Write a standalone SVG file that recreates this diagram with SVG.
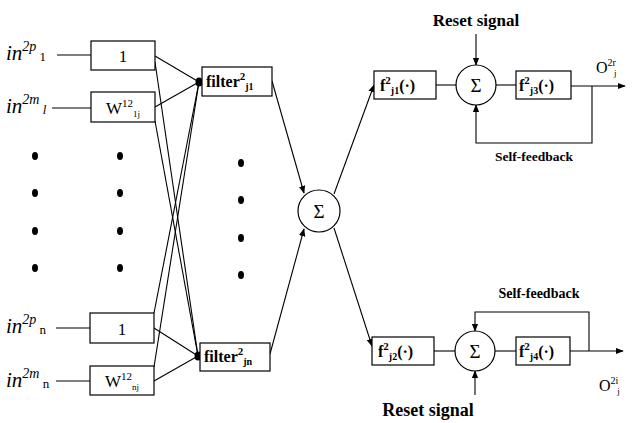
<svg xmlns="http://www.w3.org/2000/svg" width="634" height="423" viewBox="0 0 634 423">
<defs>
<style>
.box{fill:#fff;stroke:#000;stroke-width:1.2}
.ln{fill:none;stroke:#000;stroke-width:1.1}
.ar{fill:none;stroke:#000;stroke-width:1.1;marker-end:url(#ah)}
.t{font-family:"Liberation Serif",serif;fill:#000}
.b{font-weight:bold}
.it{font-style:italic}
.dot{fill:#000}
</style>
<marker id="ah" viewBox="0 0 10 10" refX="9" refY="5" markerWidth="8" markerHeight="8" markerUnits="userSpaceOnUse" orient="auto">
<path d="M0,1 L10,5 L0,9 Z" fill="#000"/>
</marker>
</defs>
<rect width="634" height="423" fill="#fff"/>

<g id="connectors">
<line class="ln" x1="57" y1="55" x2="91" y2="55"/>
<line class="ln" x1="52" y1="108" x2="91" y2="108"/>
<line class="ln" x1="56" y1="328" x2="90" y2="328"/>
<line class="ln" x1="56" y1="381" x2="90" y2="381"/>
<line class="ln" x1="155" y1="56" x2="199" y2="82"/>
<line class="ln" x1="155" y1="107" x2="199" y2="82"/>
<line class="ln" x1="155" y1="62" x2="198" y2="356"/>
<line class="ln" x1="155" y1="121" x2="198" y2="356"/>
<line class="ln" x1="154" y1="313" x2="199" y2="82"/>
<line class="ln" x1="154" y1="367" x2="199" y2="82"/>
<line class="ln" x1="154" y1="328" x2="198" y2="356"/>
<line class="ln" x1="154" y1="381" x2="198" y2="356"/>
<line class="ar" x1="272" y1="81" x2="304" y2="193"/>
<line class="ar" x1="270" y1="354" x2="304" y2="229"/>
<line class="ar" x1="334" y1="194" x2="374" y2="85"/>
<line class="ar" x1="334" y1="228" x2="372" y2="346"/>
<line class="ln" x1="436" y1="85" x2="456" y2="85"/>
<line class="ln" x1="496" y1="85" x2="516" y2="85"/>
<line class="ar" x1="571" y1="86" x2="625" y2="86"/>
<polyline class="ar" points="592,86 592,143 476,143 476,105"/>
<line class="ar" x1="476" y1="34" x2="476" y2="65"/>
<line class="ln" x1="434" y1="351" x2="455" y2="351"/>
<line class="ln" x1="495" y1="351" x2="516" y2="351"/>
<line class="ar" x1="570" y1="351" x2="623" y2="351"/>
<polyline class="ar" points="589,351 589,312 475,312 475,331"/>
<line class="ar" x1="475" y1="395" x2="475" y2="371"/>
</g>

<g id="in1">
<text class="t" x="6" y="60" font-size="21"><tspan class="it">in</tspan><tspan class="it" font-size="14" dy="-9">2p</tspan><tspan font-size="13" dy="10"> 1</tspan></text>
</g>
<g id="in2">
<text class="t" x="6" y="113" font-size="21"><tspan class="it">in</tspan><tspan class="it" font-size="14" dy="-9">2m</tspan><tspan class="it" font-size="13" dy="10"> l</tspan></text>
</g>
<g id="in3">
<text class="t" x="6" y="333" font-size="21"><tspan class="it">in</tspan><tspan class="it" font-size="14" dy="-9">2p</tspan><tspan font-size="13" dy="10"> n</tspan></text>
</g>
<g id="in4">
<text class="t" x="6" y="387" font-size="21"><tspan class="it">in</tspan><tspan class="it" font-size="14" dy="-9">2m</tspan><tspan font-size="13" dy="10"> n</tspan></text>
</g>

<g id="box1top">
<rect class="box" x="91" y="41" width="64" height="29"/>
<text class="t" x="123" y="62" font-size="17" text-anchor="middle">1</text>
</g>
<g id="wtop">
<rect class="box" x="91" y="92" width="64" height="30"/>
<text class="t" x="123" y="114" font-size="17" text-anchor="middle">W<tspan font-size="11" dy="-7">12</tspan><tspan font-size="9" dy="10">1j</tspan></text>
</g>
<g id="box1bot">
<rect class="box" x="90" y="313" width="64" height="30"/>
<text class="t" x="122" y="335" font-size="17" text-anchor="middle">1</text>
</g>
<g id="wbot">
<rect class="box" x="90" y="366" width="64" height="29"/>
<text class="t" x="122" y="387" font-size="17" text-anchor="middle">W<tspan font-size="11" dy="-7">12</tspan><tspan font-size="9" dy="10">nj</tspan></text>
</g>

<g id="dots">
<ellipse class="dot" cx="35" cy="156" rx="3" ry="4"/>
<ellipse class="dot" cx="35" cy="193" rx="3" ry="4"/>
<ellipse class="dot" cx="35" cy="231" rx="3" ry="4"/>
<ellipse class="dot" cx="35" cy="268" rx="3" ry="4"/>
<ellipse class="dot" cx="120" cy="156" rx="3" ry="4"/>
<ellipse class="dot" cx="120" cy="193" rx="3" ry="4"/>
<ellipse class="dot" cx="120" cy="231" rx="3" ry="4"/>
<ellipse class="dot" cx="120" cy="268" rx="3" ry="4"/>
<ellipse class="dot" cx="241" cy="163" rx="3" ry="4"/>
<ellipse class="dot" cx="241" cy="200" rx="3" ry="4"/>
<ellipse class="dot" cx="241" cy="238" rx="3" ry="4"/>
<ellipse class="dot" cx="241" cy="275" rx="3" ry="4"/>
<ellipse class="dot" cx="199" cy="82" rx="3.5" ry="4.5"/>
<ellipse class="dot" cx="198" cy="356" rx="3.5" ry="4.5"/>
</g>

<g id="filter1">
<rect class="box" x="202" y="67" width="70" height="29"/>
<text class="t b" x="206" y="87" font-size="16">filter<tspan font-size="11" dy="-7">2</tspan><tspan font-size="10" dy="10">j1</tspan></text>
</g>
<g id="filtern">
<rect class="box" x="200" y="343" width="70" height="28"/>
<text class="t b" x="204" y="362" font-size="16">filter<tspan font-size="11" dy="-7">2</tspan><tspan font-size="10" dy="10">jn</tspan></text>
</g>

<g id="sum0">
<circle class="box" cx="319" cy="211" r="21"/>
<text class="t" x="319" y="218" font-size="19" text-anchor="middle">Σ</text>
</g>

<g id="fj1">
<rect class="box" x="374" y="71" width="62" height="28"/>
<text class="t b" x="380" y="91" font-size="16">f<tspan font-size="11" dy="-7">2</tspan><tspan font-size="10" dy="10">j1</tspan><tspan font-size="16" dy="-3">(·)</tspan></text>
</g>
<g id="sum1">
<circle class="box" cx="476" cy="85" r="20"/>
<text class="t" x="476" y="92" font-size="19" text-anchor="middle">Σ</text>
</g>
<g id="fj3">
<rect class="box" x="516" y="71" width="55" height="28"/>
<text class="t b" x="519" y="91" font-size="16">f<tspan font-size="11" dy="-7">2</tspan><tspan font-size="10" dy="10">j3</tspan><tspan font-size="16" dy="-3">(·)</tspan></text>
</g>

<g id="fj2">
<rect class="box" x="372" y="337" width="62" height="28"/>
<text class="t b" x="378" y="357" font-size="16">f<tspan font-size="11" dy="-7">2</tspan><tspan font-size="10" dy="10">j2</tspan><tspan font-size="16" dy="-3">(·)</tspan></text>
</g>
<g id="sum2">
<circle class="box" cx="475" cy="351" r="20"/>
<text class="t" x="475" y="358" font-size="19" text-anchor="middle">Σ</text>
</g>
<g id="fj4">
<rect class="box" x="516" y="337" width="54" height="28"/>
<text class="t b" x="519" y="357" font-size="16">f<tspan font-size="11" dy="-7">2</tspan><tspan font-size="10" dy="10">j4</tspan><tspan font-size="16" dy="-3">(·)</tspan></text>
</g>

<g id="labels">
<text class="t b" x="476" y="26" font-size="17" text-anchor="middle">Reset signal</text>
<text class="t b" x="534" y="161" font-size="13.5" text-anchor="middle">Self-feedback</text>
<text class="t b" x="539" y="298" font-size="14" text-anchor="middle">Self-feedback</text>
<text class="t b" x="428" y="416" font-size="18" text-anchor="middle">Reset signal</text>
<text class="t" x="596" y="73" font-size="16">O<tspan font-size="10" dy="-7">2r</tspan><tspan font-size="9" dy="10" dx="-2">j</tspan></text>
<text class="t" x="599" y="391" font-size="16">O<tspan font-size="10" dy="-7">2i</tspan><tspan font-size="9" dy="10" dx="-1">j</tspan></text>
</g>
</svg>
